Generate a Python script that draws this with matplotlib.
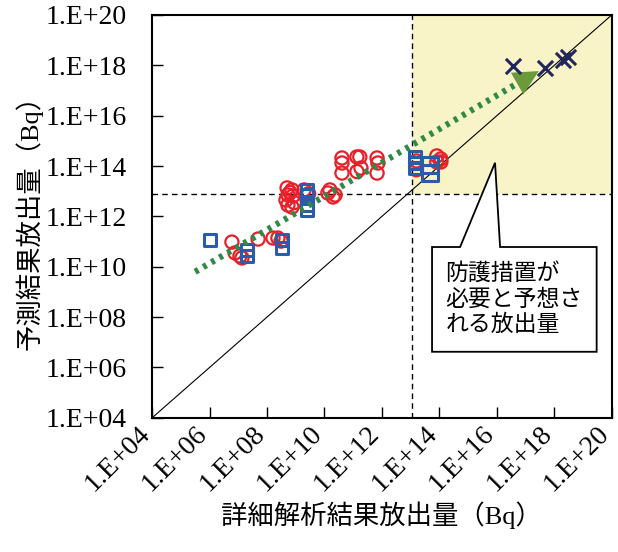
import numpy as np
import matplotlib.pyplot as plt
import matplotlib.transforms as mtransforms
from matplotlib.patches import Polygon, Rectangle

plt.rcParams['font.family'] = ['Liberation Serif', 'Noto Sans CJK JP']

# data as log10 values (Bq)
circ_x = [6.78, 6.89, 7.06, 7.13, 7.69, 8.21, 8.38, 8.49,
          8.66, 8.70, 8.73, 8.87, 8.90, 8.73, 8.87, 8.80, 8.95, 9.29, 9.45,
          10.12, 10.19, 10.30, 10.37,
          10.61, 10.61, 10.61, 11.13, 11.23, 11.13, 11.27, 11.83, 11.86, 11.83,
          13.91, 14.05, 13.91, 14.05, 13.20, 13.20]
circ_y = [10.98, 10.55, 10.43, 10.35, 11.10, 11.14, 11.14, 11.02,
          12.65, 13.13, 12.85, 13.05, 12.81, 12.45, 12.37, 12.95, 12.55, 13.05, 12.90,
          12.93, 13.05, 12.77, 12.85,
          14.32, 14.12, 13.72, 14.36, 14.36, 13.78, 13.92, 14.32, 14.12, 13.72,
          14.40, 14.28, 14.16, 14.16, 14.20, 13.85]

sq_x = [6.02, 7.30, 7.30, 8.52, 8.52, 9.39, 9.39, 9.39, 9.39,
        13.15, 13.15, 13.15]
sq_y = [11.06, 10.67, 10.43, 11.06, 10.75, 13.05, 12.85, 12.47, 12.25,
        14.36, 14.12, 13.92]
sq_big_x = [13.67, 13.67]
sq_big_y = [14.04, 13.72]

cross_x = [16.56, 17.67, 18.30, 18.47]
cross_y = [17.97, 17.89, 18.21, 18.33]

# regression line ends and arrow tip
fit_x = [5.5, 16.73]
fit_y = [9.8, 17.29]
arrow_tip = (17.46, 17.77)

thr_x = 13.05
thr_y = 12.9

ticks = [4, 6, 8, 10, 12, 14, 16, 18, 20]
tick_labels = ['1.E+%02d' % t for t in ticks]

fig = plt.figure(figsize=(6.18, 5.52), dpi=100)
ax = fig.add_axes([0.246, 0.243, 0.744, 0.730])

ax.set_xscale('log')
ax.set_yscale('log')
ax.set_xlim(1e4, 1e20)
ax.set_ylim(1e4, 1e20)

ax.add_patch(Rectangle((10**thr_x, 10**thr_y), 1e20 - 10**thr_x, 1e20 - 10**thr_y,
                       facecolor='#f8f4c8', edgecolor='none', zorder=0))
ax.plot([1e4, 1e20], [1e4, 1e20], color='black', lw=0.8, zorder=1)
ax.axvline(10**thr_x, color='black', lw=1.0, ls=(0, (4, 3)), zorder=1)
ax.axhline(10**thr_y, color='black', lw=1.0, ls=(0, (4, 3)), zorder=1)

ax.plot(10**np.array(fit_x), 10**np.array(fit_y), color='#2e8b46', lw=4.5,
        ls=(0, (0.6, 0.9)), zorder=4)
ax.annotate('', xy=(10**arrow_tip[0], 10**arrow_tip[1]),
            xytext=(10**fit_x[1], 10**fit_y[1]),
            arrowprops=dict(arrowstyle='-|>,head_length=0.9,head_width=0.45',
                            color='#6b9a3c', lw=0,
                            mutation_scale=20, shrinkA=0, shrinkB=0), zorder=4)

ax.scatter(10**np.array(circ_x), 10**np.array(circ_y), s=90, facecolors='none',
           edgecolors='#e8202a', linewidths=1.6, zorder=3)
ax.scatter(10**np.array(sq_x), 10**np.array(sq_y), s=80, marker='s', facecolors='none',
           edgecolors='#2a5caa', linewidths=2.2, zorder=3)
ax.scatter(10**np.array(sq_big_x), 10**np.array(sq_big_y), s=140, marker='s',
           facecolors='none', edgecolors='#2a5caa', linewidths=2.2, zorder=3)
ax.scatter(10**np.array(cross_x), 10**np.array(cross_y), s=120, marker='x',
           color='#23265e', linewidths=2.2, zorder=5)

ax.set_xticks([10.0**t for t in ticks])
ax.set_yticks([10.0**t for t in ticks])
ax.set_xticklabels(tick_labels, rotation=45, ha='right', va='center',
                   rotation_mode='anchor')
ax.set_yticklabels(tick_labels)
ax.minorticks_off()
ax.tick_params(direction='in', length=8, width=1.0, labelsize=20)
ax.tick_params(axis='y', pad=18)
ax.tick_params(axis='x', pad=10)
shift = mtransforms.ScaledTranslation(-6 / 100, 2 / 100, fig.dpi_scale_trans)
for lab in ax.get_xticklabels():
    lab.set_transform(lab.get_transform() + shift)
for s in ax.spines.values():
    s.set_linewidth(1.5)

ax.set_xlabel('詳細解析結果放出量（Bq）', fontsize=19, labelpad=4)
ax.set_ylabel('予測結果放出量（Bq）', fontsize=19, labelpad=2)

# callout box
callout = Polygon([(0.609, 0.164), (0.609, 0.424), (0.670, 0.424), (0.746, 0.633),
                   (0.757, 0.424), (0.967, 0.424), (0.967, 0.164)],
                  closed=True, transform=ax.transAxes, facecolor='white',
                  edgecolor='black', lw=1.3, zorder=6)
ax.add_patch(callout)
ax.text(0.787, 0.294, '防護措置が\n必要と予想さ\nれる放出量', transform=ax.transAxes,
        ha='center', va='center', multialignment='left', fontsize=16.5,
        linespacing=1.25, zorder=7)

fig.savefig('out.png', dpi=100)
